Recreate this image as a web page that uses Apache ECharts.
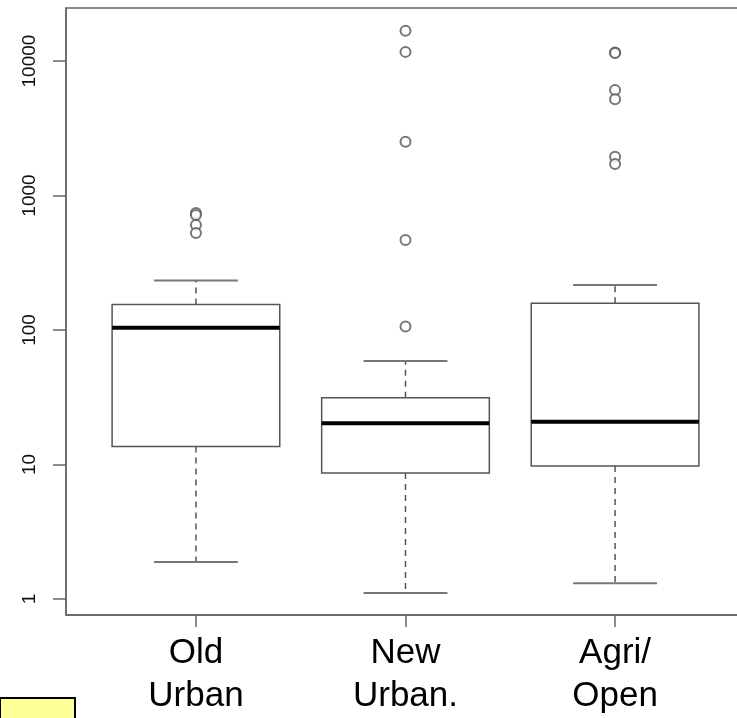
<!DOCTYPE html>
<html>
<head>
<meta charset="utf-8">
<script src="https://cdn.jsdelivr.net/npm/echarts@6/dist/echarts.min.js"></script>
<style>html,body{margin:0;padding:0;background:#fff;}#c{width:737px;height:718px;}</style>
</head>
<body>
<div id="c"></div>
<script>
// ---- data ----
var categories = ['Old\nUrban', 'New\nUrban.', 'Agri/\nOpen'];
var categoryPos = [1, 2, 3];
var lowerWhisker = [1.88, 1.11, 1.31];
var q1 = [13.6, 8.65, 9.75];
var median = [104, 20.3, 20.8];
var q3 = [155, 31.4, 158];
var upperWhisker = [233, 58.8, 216];
var outliersOld = [741, 716, 604, 526];
var outliersNew = [16800, 11700, 2510, 467, 106];
var outliersAgri = [11600, 11500, 6090, 5190, 1944, 1714];
var yTicks = [1, 10, 100, 1000, 10000];

// ---- build ----
var boxData = categoryPos.map(function (x, i) {
  return [x, lowerWhisker[i], q1[i], median[i], q3[i], upperWhisker[i]];
});
var outlierData = [];
[outliersOld, outliersNew, outliersAgri].forEach(function (arr, i) {
  arr.forEach(function (v) { outlierData.push([categoryPos[i], v]); });
});

var LINE = '#555555';

function renderBox(params, api) {
  var x = api.value(0);
  var pLow = api.coord([x, api.value(1)]);
  var pQ1 = api.coord([x, api.value(2)]);
  var pMed = api.coord([x, api.value(3)]);
  var pQ3 = api.coord([x, api.value(4)]);
  var pHigh = api.coord([x, api.value(5)]);
  var halfBox = api.size([0.8, 0])[0] / 2;
  var halfCap = api.size([0.4, 0])[0] / 2;
  var cx = pMed[0];
  var dash = { stroke: LINE, lineWidth: 1.5, lineDash: [6, 5] };
  return {
    type: 'group',
    children: [
      { type: 'line', shape: { x1: cx, y1: pQ3[1], x2: cx, y2: pHigh[1] }, style: dash },
      { type: 'line', shape: { x1: cx, y1: pQ1[1], x2: cx, y2: pLow[1] }, style: dash },
      { type: 'line', shape: { x1: cx - halfCap, y1: pHigh[1], x2: cx + halfCap, y2: pHigh[1] }, style: { stroke: '#777', lineWidth: 2 } },
      { type: 'line', shape: { x1: cx - halfCap, y1: pLow[1], x2: cx + halfCap, y2: pLow[1] }, style: { stroke: '#777', lineWidth: 2 } },
      { type: 'rect', shape: { x: cx - halfBox, y: pQ3[1], width: halfBox * 2, height: pQ1[1] - pQ3[1] }, style: { fill: '#fff', stroke: LINE, lineWidth: 1.5 } },
      { type: 'line', shape: { x1: cx - halfBox, y1: pMed[1], x2: cx + halfBox, y2: pMed[1] }, style: { stroke: '#000', lineWidth: 4 } }
    ]
  };
}

var chart = echarts.init(document.getElementById('c'), null, { renderer: 'canvas' });
chart.setOption({
  animation: false,
  backgroundColor: '#ffffff',
  grid: {
    left: 66, top: 8, width: 679, bottom: 103,
    outerBoundsMode: 'none', containLabel: false,
    show: true, borderColor: '#666', borderWidth: 1.5, backgroundColor: 'transparent'
  },
  xAxis: {
    type: 'value', min: 0.38, max: 3.62,
    splitLine: { show: false },
    axisLine: { show: true, lineStyle: { color: '#666', width: 1.5 } },
    axisTick: { show: true, length: 12, lineStyle: { color: '#666', width: 1.5 }, customValues: categoryPos },
    axisLabel: {
      customValues: categoryPos,
      formatter: function (v) { return categories[Math.round(v) - 1]; },
      fontFamily: 'Liberation Sans, Arial', fontSize: 35, lineHeight: 43, color: '#000', margin: 17
    }
  },
  yAxis: {
    type: 'log', logBase: 10, min: 0.76, max: 24800,
    splitLine: { show: false },
    axisLine: { show: true, lineStyle: { color: '#666', width: 1.5 } },
    axisTick: { show: true, length: 13, lineStyle: { color: '#666', width: 1.5 }, customValues: yTicks },
    axisLabel: {
      customValues: yTicks,
      rotate: 90,
      formatter: function (v) { return String(Math.round(v)); },
      fontFamily: 'Liberation Sans, Arial', fontSize: 19, color: '#111', margin: 27
    }
  },
  series: [
    {
      type: 'custom',
      renderItem: renderBox,
      data: boxData,
      encode: { x: 0, y: [1, 2, 3, 4, 5] },
      clip: false,
      z: 2
    },
    {
      type: 'scatter',
      data: outlierData,
      symbol: 'emptyCircle',
      symbolSize: 10,
      itemStyle: { color: LINE, borderColor: LINE, borderWidth: 1.5 },
      z: 3
    }
  ],
  graphic: [
    {
      type: 'rect', left: -1, top: 697, z: 10,
      shape: { width: 75, height: 24 },
      style: { fill: '#FFFF99', stroke: '#000', lineWidth: 2 }
    }
  ]
});
</script>
</body>
</html>
